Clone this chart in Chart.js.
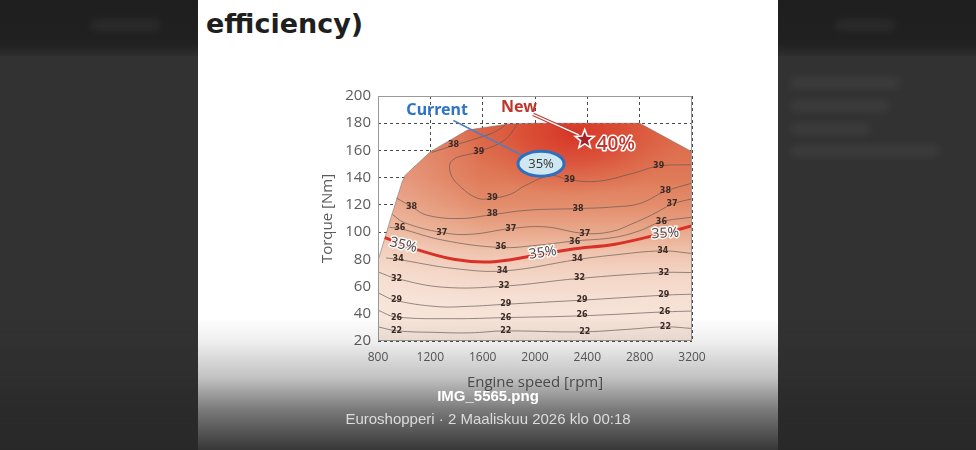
<!DOCTYPE html>
<html>
<head>
<meta charset="utf-8">
<title>Engine efficiency map</title>
<script src="https://cdn.jsdelivr.net/npm/chart.js@4.4.1/dist/chart.umd.min.js"></script>
<style>
  html, body { margin: 0; padding: 0; }
  body { width: 976px; height: 450px; overflow: hidden; position: relative; background: #323232; }
  .band { position: absolute; left: 0; top: 0; width: 976px; height: 56px; background: linear-gradient(#1e1e1e, #212121 80%, #2e2e2e); }
  .ghost { position: absolute; height: 10px; border-radius: 5px; background: rgba(255,255,255,0.06); filter: blur(4px); }
  .slide { position: absolute; left: 198px; top: 0; width: 580px; height: 450px; background: #fff; }
  .title { position: absolute; left: 8px; top: 8px; font: bold 27px "DejaVu Sans", Verdana, sans-serif; color: #1f1f1f; }
  .chart-wrap { position: absolute; left: 112px; top: 80px; width: 410px; height: 312px; }
  .fade { position: absolute; left: 0; top: 318px; width: 976px; height: 132px;
          background: linear-gradient(to bottom, rgba(38,38,38,0) 0%, rgba(38,38,38,0.08) 18%, rgba(38,38,38,0.28) 45%, rgba(38,38,38,0.62) 70%, rgba(40,40,40,0.93) 100%); }
  .cap { position: absolute; left: 198px; width: 580px; text-align: center; font-family: "Liberation Sans", Arial, sans-serif; }
  .cap.name { top: 387px; font-weight: bold; font-size: 15px; color: #fff; }
  .cap.meta { top: 410px; font-size: 15px; color: #dcdcdc; }
</style>
</head>
<body>
<div class="band"></div>
<div class="ghost" style="left:90px; top:20px; width:70px;"></div>
<div class="ghost" style="left:835px; top:20px; width:60px;"></div>
<div class="ghost" style="left:790px; top:78px; width:110px;"></div>
<div class="ghost" style="left:790px; top:101px; width:100px;"></div>
<div class="ghost" style="left:790px; top:124px; width:80px;"></div>
<div class="ghost" style="left:790px; top:146px; width:150px;"></div>
<div class="slide">
  <div class="title">efficiency)</div>
  <div class="chart-wrap"><canvas id="map" width="410" height="312"></canvas></div>
</div>
<div class="fade"></div>
<div class="cap name">IMG_5565.png</div>
<div class="cap meta">Euroshopperi · 2 Maaliskuu 2026 klo 00:18</div>

<script>
// axis ranges
const rpmRange = [800, 3200];
const rpmStep = 400;
const torqueRange = [20, 200];
const torqueStep = 20;

// operating envelope (full load line), [rpm, Nm]
const envelope = [[800,79],[900,111],[985,137],[1010,142],[1200,159],[1484,175],[1800,179.5],[2000,180],[2800,180],[3200,159]];

// efficiency contours, [rpm, Nm]
const iso22 = [[800,30.4],[942,27.5],[1250,26.3],[1507,26],[1763,27.4],[2354,26.7],[2700,28.5],[2996,30.4],[3200,29.2]];
const iso26 = [[800,42.7],[929,37.8],[1378,36.4],[1777,37.2],[2354,38.5],[2996,41.4],[3200,42]];
const iso29 = [[800,55.4],[929,50],[1250,45.3],[1500,45.5],[1777,47],[2354,50],[2996,53.7],[3200,54.4]];
const iso32 = [[800,70.8],[942,65.9],[1301,59.5],[1763,60.3],[2329,65.9],[2971,70.3],[3200,70.3]];
const iso34 = [[862,81],[954,79.9],[1378,73.3],[1763,71.5],[2329,79.9],[2586,83],[2971,86.2],[3200,84.3]];
const iso35 = [[852,96],[1070,88],[1378,80],[1661,78.1],[1969,82.3],[2277,87.4],[2611,91.1],[2919,97.7],[3200,104.5]];
const iso36 = [[888,103.5],[967,102.6],[1301,94],[1738,88.7],[2021,90.4],[2303,93.5],[2600,96],[2800,101],[2960,107.5],[3200,111]];
const iso37 = [[910,113],[1000,107],[1288,99.7],[1507,98.4],[1815,102.6],[2072,103.9],[2380,99],[2585,100.4],[2740,106],[2900,113],[3048,120.5],[3200,124.5]];
const iso38 = [[942,125],[1060,118.5],[1175,112.4],[1432,110],[1676,112.9],[1946,116.1],[2329,117.3],[2600,118.5],[2800,121],[2997,130],[3200,136]];
const iso38top = [[1210,158.5],[1381,163.8],[1561,169],[1700,174],[1790,180]];
const iso39 = [[1870,180],[1766,167.5],[1561,158.9],[1368,152.8],[1355,143],[1432,133.2],[1561,124.9],[1663,124.7],[1817,128],[1921,134],[2123,141.5],[2264,138.3],[2483,137.4],[2740,143],[2946,148.5],[3200,149.5]];
const isoLines = [iso22, iso26, iso29, iso32, iso34, iso36, iso37, iso38, iso38top, iso39];

// contour labels [text, rpm, Nm]
const isoLabels = [
  ['38',1378,163.8], ['39',1571,158.9], ['39',2945,148.4], ['39',2264,138.6], ['39',1673,125.4],
  ['38',2997,130], ['38',1057,118.5], ['38',1673,113.2], ['38',2329,117.3], ['37',3048,120.5],
  ['37',1288,99.7], ['37',1815,102.6], ['37',2380,99], ['36',967,103.1], ['36',1738,89.2],
  ['36',2303,92.9], ['36',2966,107.5], ['34',954,80.1], ['34',1750,71.6], ['34',2323,80.1],
  ['34',2976,86.3], ['32',941,65.7], ['32',1763,60.6], ['32',2341,66.4], ['32',2984,70.1],
  ['29',941,50.1], ['29',1776,47.1], ['29',2359,50.1], ['29',2984,53.5], ['26',941,37.3],
  ['26',1776,37.1], ['26',2359,38.8], ['26',2991,41.3], ['22',941,27.6], ['22',1776,27.6],
  ['22',2380,26.8], ['22',2997,30.5]
];
// labels on the 35% line [text, rpm, Nm, angle deg]
const redLabels = [['35%',993,90.4,14], ['35%',2059,84.7,-8], ['35%',2996,99,-3]];

// callouts
const currentText = ['Current', 1252, 189.5];
const currentLeader = [[1376,182],[1910,156]];
const currentPoint = ['35%', 2046, 150.3];
const newText = ['New', 1877, 191.7];
const newLeader = [[1985,186.5],[2335,171.5]];
const newPoint = ['40%', 2380, 168];
const hotSpot = [2300, 172];

const toXY = pts => pts.map(p => ({ x: p[0], y: p[1] }));
const axisFont = '"Open Sans", "Noto Sans", sans-serif';

let fillCache = null;
function envelopeFill(context) {
  const chart = context.chart;
  const area = chart.chartArea;
  if (!area) return 'rgba(0,0,0,0)';
  const key = [chart.width, chart.height, area.left, area.top, area.right, area.bottom].join(',');
  if (fillCache && fillCache.key === key) return fillCache.pattern;
  const xs = chart.scales.x, ys = chart.scales.y;
  const off = document.createElement('canvas');
  off.width = chart.width; off.height = chart.height;
  const g = off.getContext('2d');

  const y0 = ys.getPixelForValue(20), y1 = ys.getPixelForValue(180);
  const lin = g.createLinearGradient(0, y0, 0, y1);
  lin.addColorStop(0, '#f7e6dc');
  lin.addColorStop(0.19, '#f6e0d4');
  lin.addColorStop(0.31, '#f3d4c4');
  lin.addColorStop(0.41, '#efc3ad');
  lin.addColorStop(0.5, '#e9a98c');
  lin.addColorStop(0.625, '#e38d6c');
  lin.addColorStop(0.75, '#df7a58');
  lin.addColorStop(1, '#dc6646');
  g.fillStyle = lin;
  g.fillRect(0, 0, off.width, off.height);

  const xl = xs.getPixelForValue(800), xr = xs.getPixelForValue(1600);
  const side = g.createLinearGradient(xl, 0, xr, 0);
  side.addColorStop(0, 'rgba(250,236,226,0.35)');
  side.addColorStop(1, 'rgba(250,236,226,0)');
  g.fillStyle = side;
  g.fillRect(0, 0, off.width, off.height);

  const hx = xs.getPixelForValue(hotSpot[0]), hy = ys.getPixelForValue(hotSpot[1]);
  g.save();
  g.translate(hx, hy);
  g.scale(1.8, 1);
  const rg = g.createRadialGradient(0, 0, 0, 0, 0, 62);
  rg.addColorStop(0, 'rgba(214,48,34,0.9)');
  rg.addColorStop(0.45, 'rgba(216,58,40,0.55)');
  rg.addColorStop(1, 'rgba(220,90,60,0)');
  g.fillStyle = rg;
  g.fillRect(-300, -300, 600, 600);
  g.restore();

  const pattern = chart.ctx.createPattern(off, 'no-repeat');
  fillCache = { key, pattern };
  return pattern;
}

function haloText(ctx, text, x, y, fill, halo, width) {
  ctx.lineJoin = 'round';
  ctx.strokeStyle = halo;
  ctx.lineWidth = width;
  ctx.strokeText(text, x, y);
  ctx.fillStyle = fill;
  ctx.fillText(text, x, y);
}

function star(ctx, cx, cy, outer, inner) {
  ctx.beginPath();
  for (let i = 0; i < 10; i++) {
    const r = i % 2 ? inner : outer;
    const a = -Math.PI / 2 + i * Math.PI / 5;
    ctx.lineTo(cx + r * Math.cos(a), cy + r * Math.sin(a));
  }
  ctx.closePath();
}

const mapDecor = {
  id: 'mapDecor',
  afterDatasetsDraw(chart) {
    const { ctx, chartArea: a } = chart;
    const xs = chart.scales.x, ys = chart.scales.y;
    const px = v => xs.getPixelForValue(v), py = v => ys.getPixelForValue(v);
    ctx.save();

    // plot frame
    ctx.strokeStyle = '#9a9a9a';
    ctx.lineWidth = 1;
    ctx.strokeRect(a.left + 0.5, a.top + 0.5, a.right - a.left - 1, a.bottom - a.top - 1);

    // contour labels
    ctx.font = 'bold 8px "DejaVu Sans", sans-serif';
    ctx.textAlign = 'center';
    ctx.textBaseline = 'middle';
    ctx.fillStyle = '#3a2b26';
    isoLabels.forEach(l => ctx.fillText(l[0], px(l[1]), py(l[2])));

    // 35% line labels
    ctx.font = '14px ' + axisFont;
    redLabels.forEach(l => {
      ctx.save();
      ctx.translate(px(l[1]), py(l[2]));
      ctx.rotate(l[3] * Math.PI / 180);
      haloText(ctx, l[0], 0, 0, '#474747', 'rgba(255,255,255,0.9)', 3);
      ctx.restore();
    });

    // "Current" callout
    ctx.strokeStyle = '#4a7fc8';
    ctx.lineWidth = 1.5;
    ctx.beginPath();
    ctx.moveTo(px(currentLeader[0][0]), py(currentLeader[0][1]));
    ctx.lineTo(px(currentLeader[1][0]), py(currentLeader[1][1]));
    ctx.stroke();
    ctx.font = 'bold 16px "Noto Sans", sans-serif';
    ctx.fillStyle = '#2f74c4';
    ctx.fillText(currentText[0], px(currentText[1]), py(currentText[2]));

    const ex = px(currentPoint[1]), ey = py(currentPoint[2]);
    ctx.beginPath();
    ctx.ellipse(ex, ey, 23, 12.5, 0, 0, Math.PI * 2);
    ctx.fillStyle = '#cfe7f0';
    ctx.fill();
    ctx.strokeStyle = '#2d6fc0';
    ctx.lineWidth = 3;
    ctx.stroke();
    ctx.font = '13px ' + axisFont;
    ctx.fillStyle = '#333';
    ctx.fillText(currentPoint[0], ex, ey + 1);

    // "New" callout
    const n0x = px(newLeader[0][0]), n0y = py(newLeader[0][1]);
    const n1x = px(newLeader[1][0]), n1y = py(newLeader[1][1]);
    ctx.beginPath();
    ctx.moveTo(n0x, n0y);
    ctx.lineTo(n1x, n1y);
    ctx.strokeStyle = '#c23a30';
    ctx.lineWidth = 3.5;
    ctx.stroke();
    ctx.strokeStyle = '#ffffff';
    ctx.lineWidth = 1.3;
    ctx.stroke();
    ctx.font = 'bold 16px "Noto Sans", sans-serif';
    ctx.fillStyle = '#c0352b';
    ctx.fillText(newText[0], px(newText[1]), py(newText[2]));

    const sx = px(newPoint[1]), sy = py(newPoint[2]);
    star(ctx, sx, sy, 10, 4.3);
    ctx.fillStyle = '#a8222a';
    ctx.fill();
    ctx.strokeStyle = '#ffffff';
    ctx.lineWidth = 1.6;
    ctx.stroke();
    ctx.font = '600 19px ' + axisFont;
    ctx.textAlign = 'left';
    haloText(ctx, newPoint[0], sx + 12, sy + 5, '#c8342b', '#ffffff', 3);

    ctx.restore();
  }
};

new Chart(document.getElementById('map'), {
  type: 'line',
  data: {
    datasets: [
      { data: toXY(iso35), borderColor: '#d9302a', borderWidth: 3, pointRadius: 0, tension: 0.35, fill: false, order: 1 },
      ...isoLines.map(pts => ({
        data: toXY(pts), borderColor: 'rgba(95,85,82,0.65)', borderWidth: 1, pointRadius: 0, tension: 0.4, fill: false, order: 2
      })),
      { data: toXY(envelope), borderColor: 'rgba(120,110,105,0.55)', borderWidth: 1, pointRadius: 0, tension: 0,
        fill: 'start', backgroundColor: envelopeFill, order: 3 }
    ]
  },
  options: {
    responsive: false,
    devicePixelRatio: 1,
    animation: false,
    layout: { padding: { top: 16, right: 28, left: 0, bottom: 0 } },
    plugins: { legend: { display: false }, tooltip: { enabled: false } },
    scales: {
      x: {
        type: 'linear', min: rpmRange[0], max: rpmRange[1],
        ticks: { stepSize: rpmStep, color: '#5b5b5b', font: { family: axisFont, size: 12 }, padding: 9, maxRotation: 0,
                 callback: v => String(v) },
        grid: { color: '#4a4a4a', lineWidth: 1, drawTicks: false },
        border: { display: false, dash: [3, 3] },
        title: { display: true, text: 'Engine speed [rpm]', color: '#5b5b5b', font: { family: axisFont, size: 15 }, padding: { top: 4, bottom: 0 } },
        afterFit(scale) { scale.height = 51; }
      },
      y: {
        type: 'linear', min: torqueRange[0], max: torqueRange[1],
        ticks: { stepSize: torqueStep, color: '#5b5b5b', font: { family: axisFont, size: 15 }, padding: 7 },
        grid: { color: '#4a4a4a', lineWidth: 1, drawTicks: false },
        border: { display: false, dash: [3, 3] },
        title: { display: true, text: 'Torque [Nm]', color: '#5b5b5b', font: { family: axisFont, size: 15 }, padding: { top: 9, bottom: 0 } },
        afterFit(scale) { scale.width = 68; }
      }
    }
  },
  plugins: [mapDecor]
});
</script>
</body>
</html>
